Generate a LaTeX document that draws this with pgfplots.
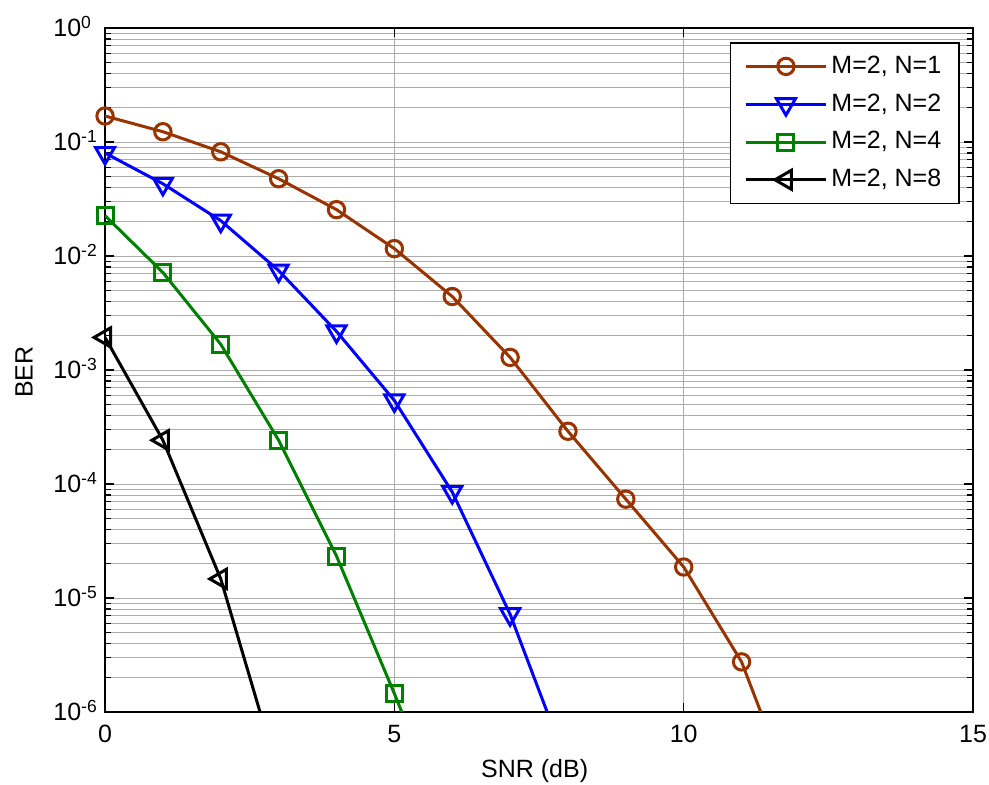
\documentclass[border=0pt]{standalone}
\usepackage{fontspec}
\setmainfont{Liberation Sans}
\usepackage{pgfplots}
\pgfplotsset{compat=1.18}

\definecolor{cBrown}{RGB}{153,51,0}
\definecolor{cBlue}{RGB}{0,0,255}
\definecolor{cGreen}{RGB}{0,128,0}

\begin{document}
\fontsize{12.5}{15}\selectfont
\begin{tikzpicture}
\begin{axis}[
  name=ax,
  scale only axis,
  width=434pt, height=342pt,
  xmin=0, xmax=15, ymin=1e-6, ymax=1,
  ymode=log,
  clip mode=individual,
  axis line style={line width=0.8pt},
  xtick={0,5,10,15},
  ytick={1e-6,1e-5,1e-4,1e-3,1e-2,1e-1,1},
  yticklabels={10\textsuperscript{-6},10\textsuperscript{-5},10\textsuperscript{-4},10\textsuperscript{-3},10\textsuperscript{-2},10\textsuperscript{-1},10\textsuperscript{0}},
  /pgf/number format/assume math mode=true,
  tick align=inside,
  major tick length=4.5pt, minor tick length=3pt,
  tick style={black, line width=0.6pt},
  xmajorgrids, ymajorgrids, yminorgrids,
  major grid style={gray!65, line width=0.4pt},
  minor grid style={gray!65, line width=0.4pt},
  xticklabel style={anchor=north, inner sep=0pt, yshift=-6.5pt},
  yticklabel style={anchor=base west, inner sep=0pt, xshift=-26pt, yshift=-4.5pt},
  xlabel={SNR (dB)},
  ylabel={BER},
  xlabel style={at={(axis description cs:0.495,-0.0965)}, anchor=base, inner sep=0pt},
  ylabel style={at={(axis description cs:-0.0933,0.497)}, anchor=center, inner sep=0pt},
  legend style={at={(rel axis cs:0.985,0.9795)}, anchor=north east,
    draw=black, line width=0.8pt, inner xsep=7pt, inner ysep=4.5pt,
    row sep=4.3pt, font=\fontsize{12.5}{15}\selectfont},
  legend cell align=left,
  legend image code/.code={%
    \draw[mark indices={2}] plot coordinates {(0pt,0pt) (20pt,0pt) (40pt,0pt)};},
  every axis plot/.append style={line width=1.5pt},
]
% M=2, N=1
\addplot[color=cBrown, mark=o, mark size=4.1pt, mark options={solid}, mark indices={1,...,12}]
  coordinates {(0,0.169) (1,0.123) (2,0.082) (3,0.0476) (4,0.0255) (5,0.0116)
               (6,0.00441) (7,0.00129) (8,2.9e-4) (9,7.36e-5) (10,1.87e-5)
               (11,2.75e-6) (12,1.3e-7)};
\addlegendentry{M=2, N=1}
% M=2, N=2
\addplot[color=cBlue, mark=triangle, mark size=5.5pt, mark options={solid, rotate=180}, mark indices={1,...,8}]
  coordinates {(0,0.080) (1,0.043) (2,0.0204) (3,0.00745) (4,0.00218) (5,5.4e-4)
               (6,8.5e-5) (7,7.2e-6) (8,3.3e-7)};
\addlegendentry{M=2, N=2}
% M=2, N=4
\addplot[color=cGreen, mark=square, mark size=4pt, mark options={solid}, mark indices={1,...,6}]
  coordinates {(0,0.0226) (1,0.00716) (2,0.00168) (3,2.42e-4) (4,2.33e-5)
               (5,1.45e-6) (6,8e-8)};
\addlegendentry{M=2, N=4}
% M=2, N=8
\addplot[color=black, mark=triangle, mark size=5.5pt, mark options={solid, rotate=90}, mark indices={1,...,3}]
  coordinates {(0,0.00193) (1,2.42e-4) (2,1.47e-5) (3,2.8e-7)};
\addlegendentry{M=2, N=8}

\coordinate (bbsw) at (rel axis cs:-0.121,-0.1067);
\coordinate (bbne) at (rel axis cs:1.0184,1.0409);
\end{axis}
\pgfresetboundingbox
\path[use as bounding box] (bbsw) rectangle (bbne);
\end{tikzpicture}
\end{document}
